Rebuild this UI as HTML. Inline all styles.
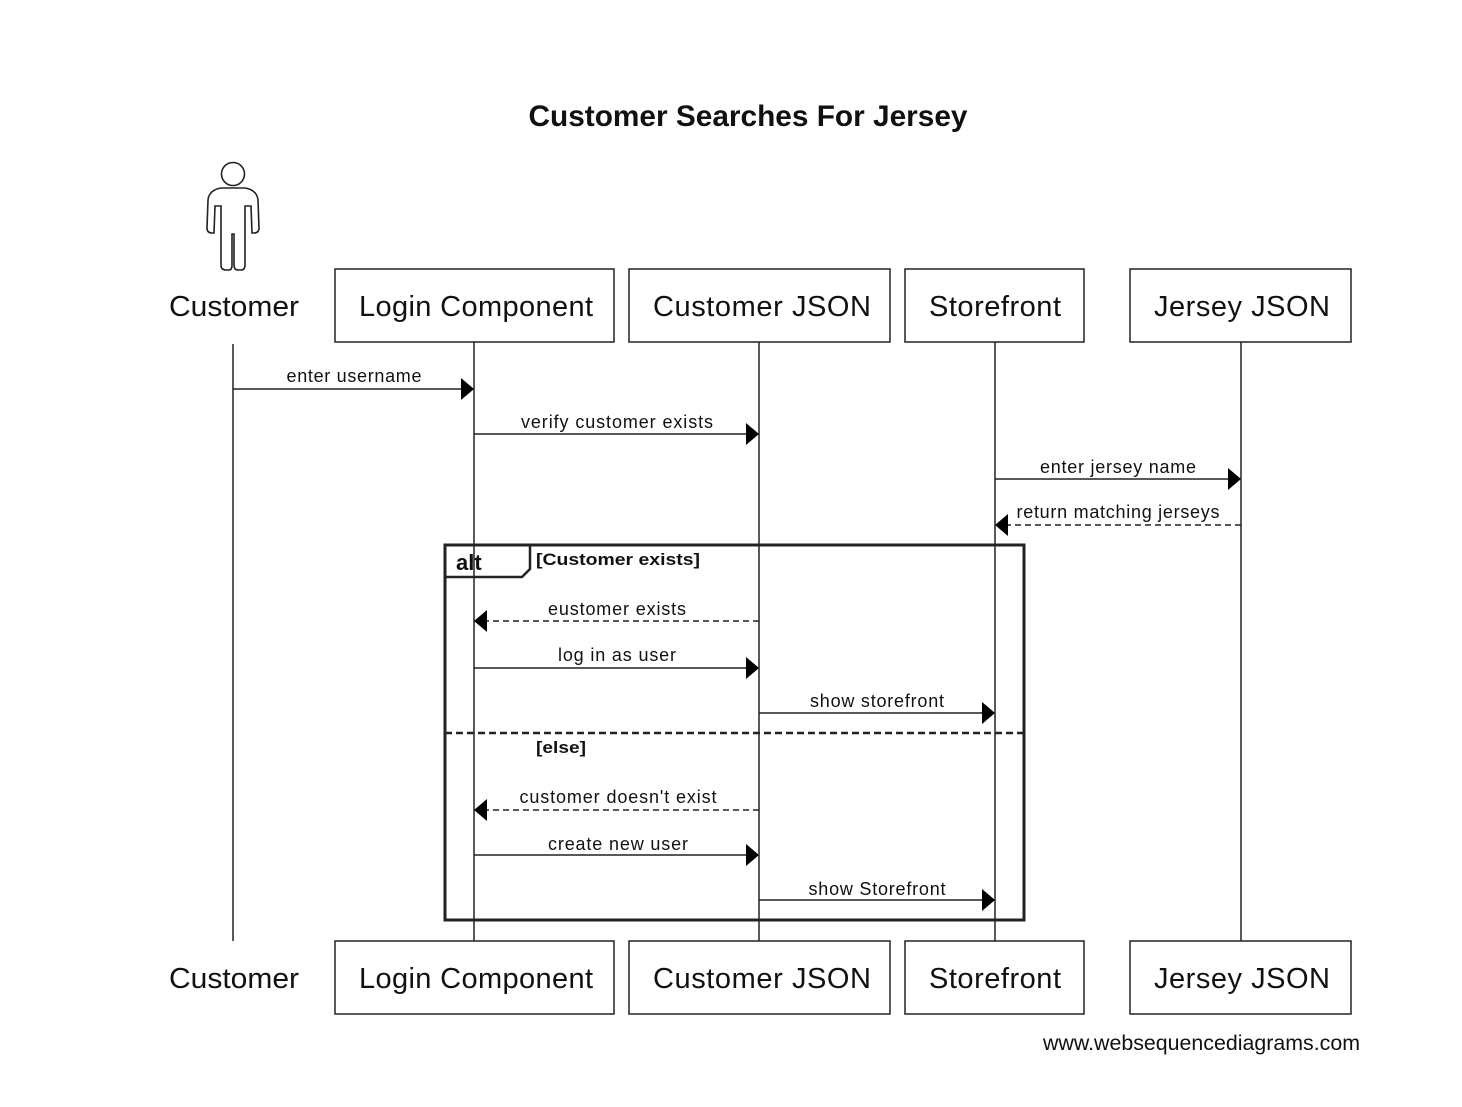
<!DOCTYPE html>
<html><head><meta charset="utf-8"><style>
html,body{margin:0;padding:0;background:#fff;}
svg text{font-family:"Liberation Sans",Arial,sans-serif;fill:#111;}
</style></head><body>
<svg width="1462" height="1102" viewBox="0 0 1462 1102" xmlns="http://www.w3.org/2000/svg">
<text x="748" y="126" font-size="30" font-weight="bold" text-anchor="middle" textLength="439" lengthAdjust="spacingAndGlyphs">Customer Searches For Jersey</text>
<!-- actor -->
<g fill="none" stroke="#222" stroke-width="1.6">
<circle cx="233" cy="174" r="11.5"/>
<path d="M221 188 Q209 190 208 200 L207 228 Q207 233 212 233 L214 233 L215 206 L221 206 L221 265 Q221 270 226 270 L229 270 Q232 270 232 265 L232 234 L234 234 L234 265 Q234 270 238 270 L241 270 Q245 270 245 265 L245 206 L251 206 L252 233 L254 233 Q259 233 259 228 L258 200 Q257 190 245 188 Z"/>
</g>
<text x="234" y="316" font-size="29" text-anchor="middle" textLength="130" lengthAdjust="spacingAndGlyphs">Customer</text>
<text x="234" y="988" font-size="29" text-anchor="middle" textLength="130" lengthAdjust="spacingAndGlyphs">Customer</text>
<g fill="#fff" stroke="#222" stroke-width="1.5">
<rect x="335" y="269" width="279" height="73"/>
<rect x="629" y="269" width="261" height="73"/>
<rect x="905" y="269" width="179" height="73"/>
<rect x="1130" y="269" width="221" height="73"/>
<rect x="335" y="941" width="279" height="73"/>
<rect x="629" y="941" width="261" height="73"/>
<rect x="905" y="941" width="179" height="73"/>
<rect x="1130" y="941" width="221" height="73"/>
</g>
<g font-size="29" text-anchor="middle" lengthAdjust="spacingAndGlyphs">
<text x="476" y="316" textLength="234">Login Component</text>
<text x="762" y="316" textLength="218">Customer JSON</text>
<text x="995" y="316" textLength="132">Storefront</text>
<text x="1242" y="316" textLength="176">Jersey JSON</text>
<text x="476" y="988" textLength="234">Login Component</text>
<text x="762" y="988" textLength="218">Customer JSON</text>
<text x="995" y="988" textLength="132">Storefront</text>
<text x="1242" y="988" textLength="176">Jersey JSON</text>
</g>
<g stroke="#222" stroke-width="1.5">
<line x1="233" y1="344" x2="233" y2="941"/>
<line x1="474" y1="342" x2="474" y2="941"/>
<line x1="759" y1="342" x2="759" y2="941"/>
<line x1="995" y1="342" x2="995" y2="941"/>
<line x1="1241" y1="342" x2="1241" y2="941"/>
</g>
<!-- alt box -->
<g fill="none" stroke="#222">
<rect x="445" y="545" width="579" height="375" stroke-width="3"/>
<path d="M445 577 L522 577 L530 569 L530 545" stroke-width="2.5"/>
<line x1="445" y1="733" x2="1024" y2="733" stroke-width="2.5" stroke-dasharray="7,4"/>
</g>
<text x="456" y="570" font-size="22" font-weight="bold">alt</text>
<text x="536" y="565" font-size="17" font-weight="bold" textLength="164" lengthAdjust="spacingAndGlyphs">[Customer exists]</text>
<text x="536" y="753" font-size="17" font-weight="bold" textLength="50" lengthAdjust="spacingAndGlyphs">[else]</text>
<!-- messages -->
<g stroke="#222" stroke-width="1.5">
<line x1="233" y1="389" x2="462" y2="389"/>
<line x1="474" y1="434" x2="747" y2="434"/>
<line x1="995" y1="479" x2="1229" y2="479"/>
<line x1="1241" y1="525" x2="1007" y2="525" stroke-dasharray="6,4"/>
<line x1="759" y1="621" x2="486" y2="621" stroke-dasharray="6,4"/>
<line x1="474" y1="668" x2="747" y2="668"/>
<line x1="759" y1="713" x2="983" y2="713"/>
<line x1="759" y1="810" x2="486" y2="810" stroke-dasharray="6,4"/>
<line x1="474" y1="855" x2="747" y2="855"/>
<line x1="759" y1="900" x2="983" y2="900"/>
</g>
<g fill="#000">
<polygon points="461,378 474,389 461,400"/>
<polygon points="746,423 759,434 746,445"/>
<polygon points="1228,468 1241,479 1228,490"/>
<polygon points="1008,514 995,525 1008,536"/>
<polygon points="487,610 474,621 487,632"/>
<polygon points="746,657 759,668 746,679"/>
<polygon points="982,702 995,713 982,724"/>
<polygon points="487,799 474,810 487,821"/>
<polygon points="746,844 759,855 746,866"/>
<polygon points="982,889 995,900 982,911"/>
</g>
<g font-size="18" text-anchor="middle" lengthAdjust="spacingAndGlyphs">
<text x="354" y="382" textLength="135">enter username</text>
<text x="617" y="428" textLength="192">verify customer exists</text>
<text x="1118" y="473" textLength="156">enter jersey name</text>
<text x="1118" y="518" textLength="203">return matching jerseys</text>
<text x="617" y="615" textLength="138">eustomer exists</text>
<text x="617" y="661" textLength="118">log in as user</text>
<text x="877" y="707" textLength="134">show storefront</text>
<text x="618" y="803" textLength="197">customer doesn't exist</text>
<text x="618" y="850" textLength="140">create new user</text>
<text x="877" y="895" textLength="137">show Storefront</text>
</g>
<text x="1360" y="1050" font-size="21" text-anchor="end" textLength="317" lengthAdjust="spacingAndGlyphs">www.websequencediagrams.com</text>
</svg>
</body></html>
